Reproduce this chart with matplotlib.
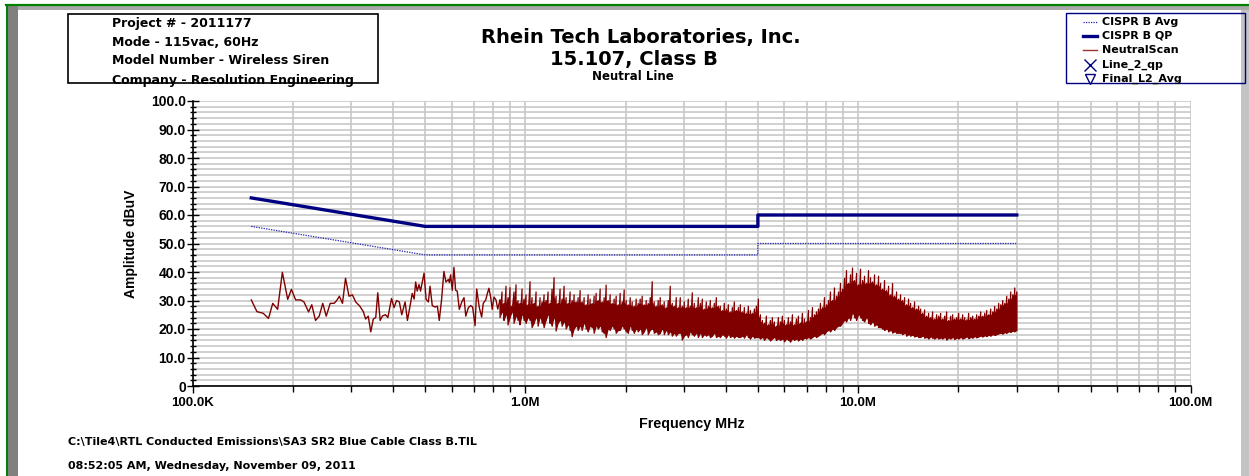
import numpy as np
import matplotlib
matplotlib.use("Agg")
import matplotlib.pyplot as plt
from matplotlib.lines import Line2D
from matplotlib.patches import Rectangle, Polygon
from matplotlib.ticker import FixedLocator, NullFormatter

plt.rcParams['font.family'] = ['Liberation Sans', 'DejaVu Sans']

# ---------------- data ----------------
limit_freq = [0.15, 0.5, 5.0, 5.0, 30.0]
qp_limit = [66, 56, 56, 60, 60]
avg_limit = [56, 46, 46, 50, 50]

# sparse part of the neutral scan (MHz, dBuV)
scan_freq = [0.150, 0.156, 0.163, 0.169, 0.174, 0.180, 0.186, 0.193, 0.198, 0.204,
             0.211, 0.216, 0.223, 0.228, 0.234, 0.240, 0.246, 0.252, 0.259, 0.266,
             0.271, 0.276, 0.282, 0.288, 0.295, 0.302, 0.309, 0.318, 0.326, 0.331,
             0.337, 0.343, 0.349, 0.355, 0.360, 0.366, 0.372, 0.380, 0.386, 0.396,
             0.403, 0.410, 0.418, 0.425, 0.435, 0.442, 0.450, 0.457, 0.463, 0.468,
             0.473, 0.479, 0.484, 0.490, 0.496, 0.503, 0.511, 0.517, 0.525, 0.535,
             0.544, 0.551, 0.560, 0.569, 0.577, 0.587, 0.591, 0.596, 0.603, 0.610,
             0.617, 0.624, 0.633, 0.644, 0.654, 0.662, 0.674, 0.685, 0.694, 0.706,
             0.714, 0.727, 0.739, 0.747, 0.760, 0.768, 0.777, 0.787, 0.795, 0.805,
             0.816, 0.826, 0.839]
scan_db = [30.2, 26.1, 25.5, 23.7, 29.0, 26.9, 39.9, 30.4, 33.9, 30.2,
           30.2, 29.5, 26.0, 28.5, 23.0, 24.5, 29.0, 24.5, 29.0, 29.0,
           30.0, 31.5, 29.0, 37.8, 31.5, 32.0, 29.5, 28.0, 26.0, 23.5,
           24.5, 19.0, 23.5, 24.0, 32.7, 23.0, 24.6, 25.0, 24.0, 30.7,
           27.5, 30.0, 29.5, 25.0, 29.5, 23.0, 28.0, 32.5, 30.5, 36.5,
           33.3, 35.6, 33.3, 36.5, 39.6, 30.4, 29.5, 35.0, 28.2, 27.7,
           28.0, 23.0, 30.4, 40.2, 36.5, 37.4, 36.3, 39.0, 33.6, 41.6,
           33.6, 33.3, 26.9, 29.5, 31.0, 24.5, 27.5, 28.2, 27.7, 21.2,
           34.0, 27.5, 24.2, 29.0, 30.2, 32.3, 34.3, 31.0, 26.9, 31.2,
           30.2, 27.0, 30.2]

# dense part of the scan (0.839 .. 30 MHz sweep): peak / trough of each trace cell
dense_start, dense_stop = 0.839, 30.0
dense_hi = [
    30, 33, 29, 35, 31, 34.5, 28, 33, 35.5, 30,
    29, 34, 30.5, 32, 28.5, 36.6, 31, 29, 33, 28,
    31, 29.5, 32, 30, 33, 29, 34, 38, 31.5, 29,
    34, 30.5, 35, 31, 29, 33, 30, 32, 29.5, 31,
    33.5, 29.5, 31, 28.5, 32, 30.5, 29, 31.5, 32.5, 30,
    34, 29.5, 31, 35.4, 30, 32, 29, 30.5, 31.5, 28.5,
    32.5, 29.5, 33.7, 30, 28.5, 31, 29.5, 28, 30.5, 29,
    30.5, 31.5, 28.5, 30, 29, 31, 36.6, 29.5, 28, 30,
    31, 28.5, 29.5, 27.5, 30, 35, 29, 28, 31, 27.5,
    31, 28, 29.5, 27.5, 30.5, 28, 32.7, 29, 27.5, 31,
    29, 30.5, 27, 29.5, 28, 30, 27.5, 29, 31, 28,
    28, 26.5, 29, 27, 28.5, 26, 27.5, 29.5, 26.5, 27.5,
    28.5, 26, 27.5, 25.5, 28, 26.5, 25.5, 27, 28, 30.5,
    25, 23, 22, 24.5, 21.5, 23, 24, 22.5, 21, 24,
    22.5, 24.5, 23, 21.5, 24, 22.5, 25, 21.5, 23.5, 24.5,
    22, 25.5, 23.5, 22.5, 26.5, 24, 27.5, 25, 26, 27,
    29, 27.5, 31, 28.5, 30, 33, 30, 34.4, 31.5, 33,
    36, 34, 37.8, 40.5, 36, 39, 41.4, 37, 39.5, 35.5,
    41, 37, 38.5, 36, 40.5, 38, 36.5, 39, 35.5, 38.5,
    36, 34, 37, 33.5, 35, 32, 36, 31.5, 33, 30.5,
    32, 30, 31, 28.5, 30.5, 29, 27.5, 29.5, 27, 28,
    27, 25.5, 26.7, 24.5, 25.5, 24, 26, 23.5, 25, 24.5,
    25.5, 23.5, 24.5, 26, 23, 24.5, 25, 23.5, 24, 25.5,
    23.5, 25, 24, 23.2, 25.5, 24, 24.5, 23.5, 25, 24.5,
    26, 24.5, 25.5, 26.5, 25, 27, 26, 28, 27, 29,
    28.5, 30, 29, 31.5, 30.5, 33, 32, 34.4, 33]
dense_lo = [
    24, 26, 23, 25, 21.4, 24, 26, 22, 24.5, 23,
    21.5, 25, 23, 22, 24, 23, 20.5, 22, 24, 21,
    24, 22, 20.5, 23, 25, 22, 21, 24, 19.3, 22,
    23, 21, 22.5, 20, 21.5, 19.5, 17.3, 20, 21, 19.5,
    21, 19.5, 22, 20, 19, 21, 20.5, 18.5, 21, 20,
    21, 19, 18.5, 17, 20, 19.5, 21, 20, 18.5, 19.5,
    19.5, 21, 20, 19, 18.5, 21, 19.5, 18.5, 20, 19,
    20, 18, 19, 20.5, 18, 19.5, 20, 18.5, 19, 18,
    18.5, 20, 18, 19.5, 18, 19, 17.5, 18.5, 17.5, 18.5,
    18.5, 16.1, 17.5, 18, 17, 19, 18, 17.5, 18.5, 17,
    18.5, 17, 18, 17.5, 18, 17, 17.5, 18.5, 17, 17.5,
    17, 18, 17.5, 16.8, 18, 17, 17.5, 16.8, 17.5, 17,
    17, 17.5, 16.8, 18, 17, 16.5, 17.5, 16.8, 17, 17,
    16.5, 17, 16, 17, 16.5, 15.8, 16.5, 17, 16, 16.5,
    16, 16.5, 15.5, 16.5, 16, 15.4, 16.5, 16, 16.5, 15.8,
    16.5, 16, 16.8, 16.5, 17, 16.5, 17, 17.5, 17, 17.5,
    18, 18.5, 18, 19, 19.5, 19, 20, 19.5, 20.5, 21,
    21, 22, 23, 22.5, 24, 23, 25.5, 24, 23, 25,
    24, 23, 22.5, 24, 22, 21.5, 22.5, 21, 21.5, 20.5,
    20.5, 20, 19.5, 20, 19, 19.5, 18.6, 19, 18.5, 18.5,
    18.5, 18, 18.5, 17.5, 18, 17.5, 17.8, 17.2, 17.5, 17,
    17, 17.5, 16.8, 17, 16.5, 17.2, 16.8, 16.5, 17, 16.5,
    16.8, 16.5, 17, 16.1, 16.8, 16.5, 17, 16.3, 16.8, 16.5,
    17, 16.5, 16.8, 17.2, 16.6, 17, 16.8, 17.3, 16.9, 17.2,
    17.5, 17.2, 17.6, 17.3, 17.8, 17.5, 18, 17.7, 18, 18.3,
    18.5, 18.2, 18.7, 18.5, 19, 18.8, 19.2, 19, 19.5]

x_major = [0.1, 1.0, 10.0, 100.0]
x_major_labels = ["100.0K", "1.0M", "10.0M", "100.0M"]
y_major = [0, 10, 20, 30, 40, 50, 60, 70, 80, 90, 100]
y_major_labels = ["0", "10.0", "20.0", "30.0", "40.0", "50.0", "60.0",
                  "70.0", "80.0", "90.0", "100.0"]

info_lines = ["Project # - 2011177", "Mode - 115vac, 60Hz",
              "Model Number - Wireless Siren", "Company - Resolution Engineering"]
legend_labels = ["CISPR B Avg", "CISPR B QP", "NeutralScan", "Line_2_qp", "Final_L2_Avg"]

# ---------------- figure ----------------
W, H = 1249, 476
fig = plt.figure(figsize=(W / 100, H / 100), dpi=100)
fig.patch.set_facecolor("white")
WIDE = ['DejaVu Sans']

def X(px):
    return px / W

def Y(py):
    return 1 - py / H

# frame decorations
fig.patches.append(Polygon([(X(7), Y(6)), (X(1249), Y(6)), (X(1249), Y(9.5)), (X(17), Y(9.5))],
                           closed=True, transform=fig.transFigure, fc="#a8a8a8", ec="none"))
fig.patches.append(Rectangle((X(7), 0), X(10.5), Y(6), transform=fig.transFigure,
                             fc="#808080", ec="none"))
fig.patches.append(Rectangle((X(1241), 0), X(8), Y(9.5), transform=fig.transFigure,
                             fc="#c4c4c4", ec="none"))
fig.lines.append(Line2D([X(6), X(1249)], [Y(4.8), Y(4.8)], transform=fig.transFigure,
                        color="#008000", lw=1.6))
fig.lines.append(Line2D([X(6.5), X(6.5)], [0, Y(4.8)], transform=fig.transFigure,
                        color="#008000", lw=1.4))

# axes
ax = fig.add_axes([X(192.7), Y(386), X(998), 285 / H])
ax.set_xscale("log")
ax.set_xlim(0.1, 100)
ax.set_ylim(0, 100)

ax.xaxis.set_major_locator(FixedLocator(x_major))
ax.set_xticklabels(x_major_labels)
minor_x = [m * d for d in (0.1, 1, 10) for m in range(2, 10)]
ax.xaxis.set_minor_locator(FixedLocator(minor_x))
ax.xaxis.set_minor_formatter(NullFormatter())
ax.yaxis.set_major_locator(FixedLocator(y_major))
ax.set_yticklabels(y_major_labels)
ax.yaxis.set_minor_locator(FixedLocator([v for v in range(0, 101, 2) if v % 10]))

for lab in ax.get_xticklabels() + ax.get_yticklabels():
    lab.set_fontweight("bold")
ax.tick_params(axis="x", which="major", direction="out", length=5, width=1,
               labelsize=9.5, pad=3)
ax.tick_params(axis="x", which="minor", direction="out", length=4, width=1)
ax.tick_params(axis="y", which="major", direction="inout", length=8, width=1,
               labelsize=10, pad=1)
ax.tick_params(axis="y", which="minor", direction="inout", length=5, width=1)

ax.grid(True, which="both", axis="both", color="#c8c8c8", lw=1.2)
ax.set_axisbelow(True)
for s in ("top", "right"):
    ax.spines[s].set_visible(False)
for s in ("left", "bottom"):
    ax.spines[s].set_linewidth(1.2)

# limit lines
ax.plot(limit_freq, avg_limit, color="#2020b0", lw=0.9, ls=(0, (1, 1)))
ax.plot(limit_freq, qp_limit, color="#000080", lw=2.4)

# scan
red = "#800000"
ax.plot(scan_freq, scan_db, color=red, lw=1.0)
n = min(len(dense_hi), len(dense_lo))
dense_freq = np.geomspace(dense_start, dense_stop, n)
hi = np.asarray(dense_hi[:n], float)
lo = np.asarray(dense_lo[:n], float)
# solid body of the trace: up to the lowest neighbouring peak; spikes drawn as strokes
hp = np.concatenate(([hi[0]], hi, [hi[-1]]))
core = np.minimum(np.minimum(hp[:-2], hp[1:-1]), hp[2:])
ax.fill_between(dense_freq, lo, core, color=red, lw=0)
zx = np.repeat(dense_freq, 2)
zy = np.empty(2 * n)
zy[0::2] = hi
zy[1::2] = lo
ax.plot(zx, zy, color=red, lw=0.9)

ax.set_ylabel("Amplitude dBuV", fontsize=10, fontweight="bold", labelpad=9)
ax.set_xlabel("Frequency MHz", fontsize=10.3, fontweight="bold", labelpad=6)

# info box
fig.patches.append(Rectangle((X(68), Y(83)), X(310), 69 / H, transform=fig.transFigure,
                             fill=False, ec="black", lw=1.2))
for i, t in enumerate(info_lines):
    fig.text(X(112), Y(23 + 19 * i), t, fontsize=9, fontweight="bold", va="center",
             family=WIDE)

# titles
fig.text(X(641), Y(37), "Rhein Tech Laboratories, Inc.", fontsize=14,
         fontweight="bold", ha="center", va="center", family=WIDE)
fig.text(X(634), Y(60), "15.107, Class B", fontsize=14, fontweight="bold",
         ha="center", va="center", family=WIDE)
fig.text(X(633), Y(77), "Neutral Line", fontsize=8.5, fontweight="bold",
         ha="center", va="center", family=WIDE)

# legend box
fig.patches.append(Rectangle((X(1066), Y(83)), X(179), 70 / H, transform=fig.transFigure,
                             fill=False, ec="#000080", lw=1.0))
ly = [22, 36, 50, 64.5, 79]
fig.lines.append(Line2D([X(1083), X(1097)], [Y(ly[0])] * 2, transform=fig.transFigure,
                        color="#2020b0", lw=0.9, ls=(0, (1, 1))))
fig.lines.append(Line2D([X(1083), X(1097)], [Y(ly[1])] * 2, transform=fig.transFigure,
                        color="#000080", lw=2.4))
fig.lines.append(Line2D([X(1083), X(1097)], [Y(ly[2])] * 2, transform=fig.transFigure,
                        color="#a03030", lw=1.0))
fig.lines.append(Line2D([X(1090)], [Y(ly[3])], transform=fig.transFigure, marker="x",
                        color="#000080", ms=8, mew=1.0, ls="none"))
fig.lines.append(Line2D([X(1090)], [Y(ly[4])], transform=fig.transFigure, marker="v",
                        mfc="none", mec="#000080", ms=7, mew=1.0, ls="none"))
for y, t in zip(ly, legend_labels):
    fig.text(X(1102), Y(y), t, fontsize=8, fontweight="bold", va="center", family=WIDE)

# footer
fig.text(X(68), Y(442), r"C:\Tile4\RTL Conducted Emissions\SA3 SR2 Blue Cable Class B.TIL",
         fontsize=8, fontweight="bold", va="center", family=WIDE)
fig.text(X(68), Y(466), "08:52:05 AM, Wednesday, November 09, 2011",
         fontsize=8, fontweight="bold", va="center", family=WIDE)

fig.savefig("out.png", dpi=100)
